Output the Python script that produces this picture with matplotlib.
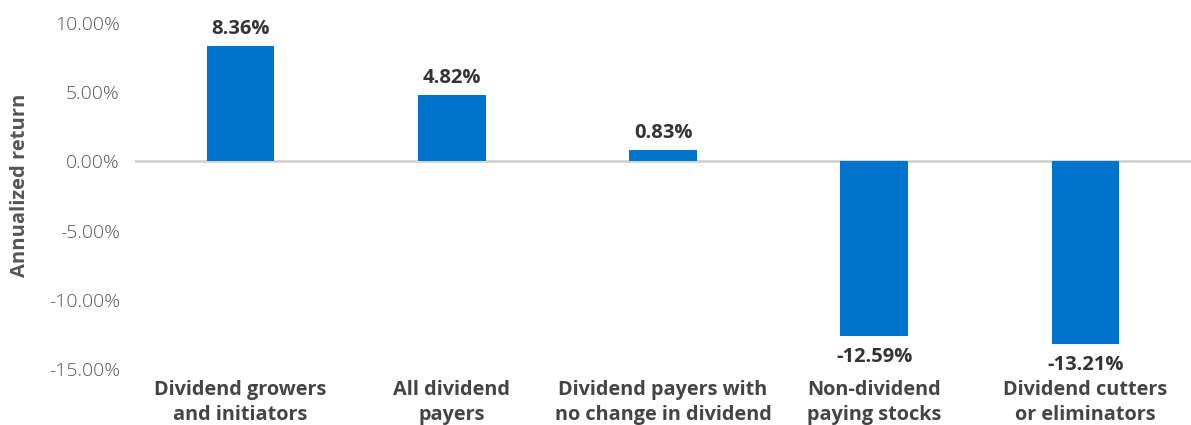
import matplotlib.pyplot as plt
import numpy as np

categories = ["Dividend growers\nand initiators", "All dividend\npayers",
              "Dividend payers with\nno change in dividend", "Non-dividend\npaying stocks",
              "Dividend cutters\nor eliminators"]
returns = [8.36, 4.82, 0.83, -12.59, -13.21]
yticks = [10, 5, 0, -5, -10, -15]

plt.rcParams['font.family'] = ['Open Sans', 'DejaVu Sans']

fig = plt.figure(figsize=(11.91, 4.25), dpi=100)
ax = fig.add_axes([0.1134, 0.1318, 0.8866, 0.8141])

x = np.arange(len(categories))
bars = ax.bar(x, returns, width=0.32, color="#0074CC", zorder=3)
ax.axhline(0, color="#d3d3d3", lw=2, zorder=2)

for xi, v in zip(x, returns):
    if v >= 0:
        ax.annotate(f"{v:.2f}%", (xi, v), xytext=(0, 5), textcoords="offset points",
                    ha="center", va="bottom", fontsize=14.5, fontweight="bold", color="#333333")
    else:
        ax.annotate(f"{v:.2f}%", (xi, v), xytext=(0, -8), textcoords="offset points",
                    ha="center", va="top", fontsize=14.5, fontweight="bold", color="#333333")

ax.set_xlim(-0.5, len(categories) - 0.5)
ax.set_ylim(-15, 10)
ax.set_yticks(yticks)
ax.set_yticklabels([f"{t:.2f}%" for t in yticks], fontsize=14, color="#555555", fontweight="light")
ax.set_xticks(x)
ax.set_xticklabels(categories, fontsize=14.3, fontweight="bold", color="#444444", linespacing=1.3)
ax.tick_params(axis="both", length=0)
ax.tick_params(axis="y", pad=11)
ax.tick_params(axis="x", pad=8)
ax.set_ylabel("Annualized return", fontsize=14.5, fontweight="bold", color="#555555")
ax.yaxis.set_label_coords(-0.0995, 0.53)
for s in ax.spines.values():
    s.set_visible(False)

fig.savefig("out.png", dpi=100)
